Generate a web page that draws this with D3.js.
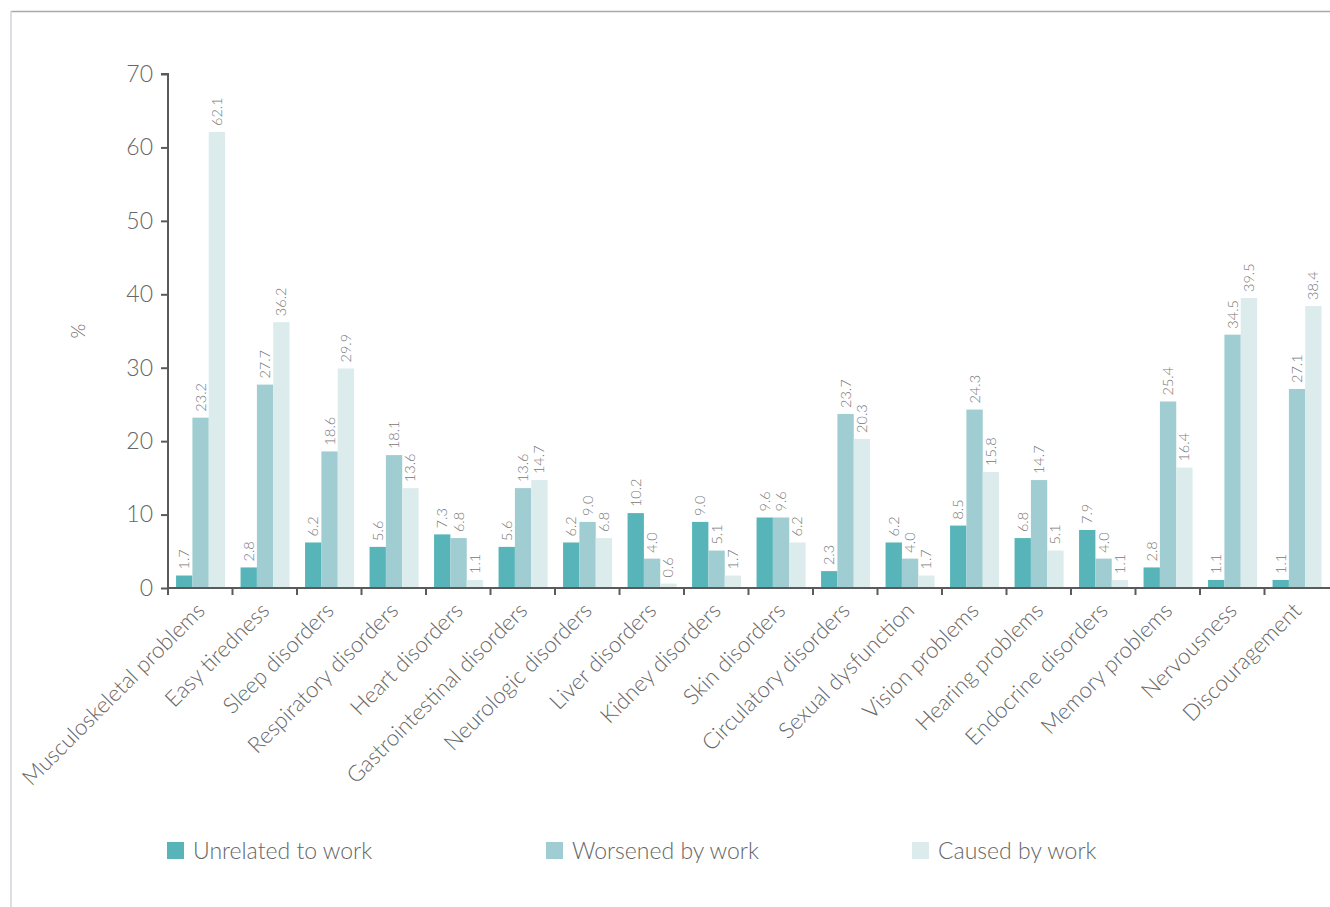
<!DOCTYPE html>
<html><head><meta charset="utf-8">
<script src="https://cdn.jsdelivr.net/npm/d3@7"></script>
<style>
html,body{margin:0;padding:0;background:#fff;}
svg text{font-family:Lato,"Open Sans",sans-serif;font-weight:300;}
</style></head>
<body><svg id="chart" width="1330" height="907"></svg>
<script>
const categories = ["Musculoskeletal problems","Easy tiredness","Sleep disorders","Respiratory disorders","Heart disorders","Gastrointestinal disorders","Neurologic disorders","Liver disorders","Kidney disorders","Skin disorders","Circulatory disorders","Sexual dysfunction","Vision problems","Hearing problems","Endocrine disorders","Memory problems","Nervousness","Discouragement"];
const seriesNames = ["Unrelated to work","Worsened by work","Caused by work"];
const unrelated = [1.7,2.8,6.2,5.6,7.3,5.6,6.2,10.2,9.0,9.6,2.3,6.2,8.5,6.8,7.9,2.8,1.1,1.1];
const worsened  = [23.2,27.7,18.6,18.1,6.8,13.6,9.0,4.0,5.1,9.6,23.7,4.0,24.3,14.7,4.0,25.4,34.5,27.1];
const caused    = [62.1,36.2,29.9,13.6,1.1,14.7,6.8,0.6,1.7,6.2,20.3,1.7,15.8,5.1,1.1,16.4,39.5,38.4];
const yTicks = [0,10,20,30,40,50,60,70];
const colors = ["#57b5b9","#9fcdd1","#dcecec"];
const seriesValues = [unrelated, worsened, caused];

const svg = d3.select("#chart");
// frame
svg.append("line").attr("x1",11).attr("x2",1330).attr("y1",11.5).attr("y2",11.5).attr("stroke","#a9a9a9").attr("stroke-width",1.5);
svg.append("line").attr("x1",11).attr("x2",11).attr("y1",11).attr("y2",907).attr("stroke","#d2d2da").attr("stroke-width",1.5);

const x0 = d3.scaleBand().domain(categories).range([168,1329]).padding(0);
const bw = x0.bandwidth();
const x1 = d3.scaleBand().domain(seriesNames).range([bw*0.125, bw*0.885]).padding(0);
const y = d3.scaleLinear().domain([0,70]).range([588,74]);

// bars
const g = svg.append("g");
categories.forEach((c,i)=>{
  seriesNames.forEach((s,j)=>{
    const v = seriesValues[j][i];
    const bx = x0(c)+x1(s);
    g.append("rect").attr("x",bx).attr("y",y(v)).attr("width",x1.bandwidth()).attr("height",y(0)-y(v)).attr("fill",colors[j]);
    g.append("text").attr("transform",`translate(${bx+x1.bandwidth()/2},${y(v)-6}) rotate(-90)`)
      .attr("dy","0.35em").attr("text-anchor","start").attr("font-size",14.5).attr("fill","#777")
      .text(v.toFixed(1));
  });
});

// y axis
const yAxis = d3.axisLeft(y).tickValues(yTicks).tickSize(7).tickPadding(8).tickFormat(d3.format("d"));
const ya = svg.append("g").attr("transform","translate(168,0)").call(yAxis);
ya.select(".domain").attr("stroke","#5a5a5a").attr("stroke-width",2).attr("d","M-7,74H0V588");
ya.selectAll(".tick line").attr("stroke","#5a5a5a").attr("stroke-width",2);
ya.selectAll(".tick text").attr("font-size",23).attr("fill","#666").attr("font-family","Lato,sans-serif").attr("font-weight",300);

// x axis
const bounds = categories.map(c=>x0(c));
const xa = svg.append("g");
xa.append("line").attr("x1",168).attr("x2",1330).attr("y1",588).attr("y2",588).attr("stroke","#5a5a5a").attr("stroke-width",2);
xa.selectAll("line.t").data(bounds).enter().append("line").attr("class","t")
  .attr("x1",d=>d).attr("x2",d=>d).attr("y1",588).attr("y2",595).attr("stroke","#5a5a5a").attr("stroke-width",2);
xa.selectAll("text").data(categories).enter().append("text")
  .attr("transform",d=>`translate(${x0(d)+bw/2+6},612) rotate(-45)`)
  .attr("text-anchor","end").attr("font-size",22.3).attr("fill","#666").text(d=>d);

// y label
svg.append("text").attr("transform","translate(78,331) rotate(-90)").attr("text-anchor","middle").attr("dy","0.35em")
  .attr("font-size",19).attr("fill","#666").text("%");

// legend
const legX = [167,546,912];
seriesNames.forEach((s,j)=>{
  svg.append("rect").attr("x",legX[j]).attr("y",842).attr("width",17).attr("height",17).attr("fill",colors[j]);
  svg.append("text").attr("x",legX[j]+26).attr("y",851).attr("dy","0.36em").attr("font-size",23).attr("fill","#666").text(s);
});
</script></body></html>
